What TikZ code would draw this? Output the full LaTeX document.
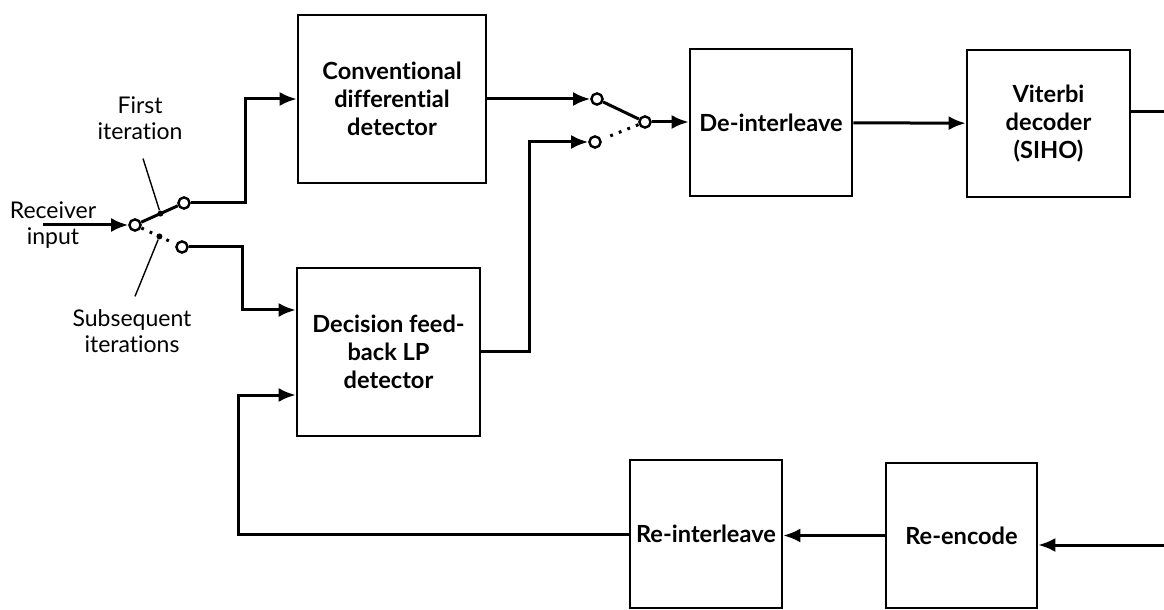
\documentclass[tikz,border=0pt]{standalone}
\usepackage{fontspec}
\setmainfont{Lato}[Ligatures={NoCommon}]
\usetikzlibrary{arrows.meta,calc}

\begin{document}
\begin{tikzpicture}[x=0.5pt,y=-0.5pt,
    blk/.style={draw,line width=1.3pt,align=center,inner sep=0pt,
      font=\bfseries\fontsize{11.8}{14}\selectfont},
    wire/.style={line width=1.5pt},
    arr/.style={wire,-{Latex[length=8.5pt,width=7pt]}},
    contact/.style={circle,draw,fill=white,line width=1.2pt,inner sep=0pt,minimum size=5.6pt},
    blob/.style={circle,fill,inner sep=0pt,minimum size=3pt},
    open/.style={wire,dash pattern=on 1.4pt off 3.2pt},
    lbl/.style={align=center,font=\fontsize{11.5}{13}\selectfont},
    leader/.style={line width=0.7pt}]
  \useasboundingbox (0,0) rectangle (1164,610);

  % Blocks
  \node[blk,minimum width=94pt,minimum height=84pt] (conv) at (392,99) {Conventional\\differential\\detector};
  \node[blk,minimum width=91.5pt,minimum height=84pt] (dfb) at (388.5,352) {Decision feed-\\back LP\\detector};
  \node[blk,minimum width=81pt,minimum height=73.5pt] (deint) at (771,122.5) {De-interleave};
  \node[blk,minimum width=81.5pt,minimum height=73.5pt] (vit) at (1048.5,123.5) {Viterbi\\decoder\\(SIHO)};
  \node[blk,minimum width=76pt,minimum height=74pt] (reint) at (706,534) {Re-interleave};
  \node[blk,minimum width=75.5pt,minimum height=72.5pt] (reenc) at (961.5,535.5) {Re-encode};

  % Input switch
  \coordinate (rxin) at (43,225);
  \node[contact] (sw1) at (135,225) {};
  \node[contact] (sw1up) at (184,203) {};
  \node[contact] (sw1dn) at (182,247) {};
  \draw[wire] (sw1) -- (sw1up);
  \draw[open] ($(sw1)!3.5pt!(sw1dn)$) -- ($(sw1)!0.8!(sw1dn)$);
  \node[blob] (d1) at ($(sw1)!0.52!(sw1up)$) {};
  \node[blob] (d2) at ($(sw1)!0.52!(sw1dn)$) {};

  % Output switch
  \node[contact] (sw2) at (645,122) {};
  \node[contact] (sw2up) at (597,99) {};
  \node[contact] (sw2dn) at (595,142) {};
  \draw[wire] (sw2up) -- (sw2);
  \draw[open] ($(sw2)!3.5pt!(sw2dn)$) -- ($(sw2)!0.7!(sw2dn)$);

  % Labels
  \node[lbl] (rx) at (53,225) {Receiver\\input};
  \node[lbl] (first) at (140,118) {First\\iteration};
  \node[lbl] (subs) at (132,331) {Subsequent\\iterations};
  \draw[leader] (first.south) ++(3,12) -- (d1);
  \draw[leader] (subs.north) ++(3,-6) -- (d2);

  % Forward path
  \draw[arr] (rxin) -- (sw1);
  \draw[arr] (sw1up) -- ++(61,0) |- (conv);
  \draw[arr] (sw1dn) -- ++(60,0) |- ([yshift=21pt]dfb.west);
  \draw[arr] (conv.east) -- (sw2up);
  \draw[arr] (dfb.east) -- ++(48,0) |- (sw2dn);
  \draw[arr] (sw2) -- (sw2 -| deint.west);
  \draw[arr] (deint) -- (vit);
  \coordinate (vitout) at (1164,112);
  \draw[wire] (vitout -| vit.east) -- (vitout);

  % Feedback path
  \coordinate (fbin) at (1164,545);
  \draw[arr] (fbin) -- (fbin -| reenc.east);
  \draw[arr] (reenc.west) -- (reenc.west -| reint.east);
  \draw[arr] (reint.west) -- ++(-390,0) |- ([yshift=-21.5pt]dfb.west);
\end{tikzpicture}
\end{document}
